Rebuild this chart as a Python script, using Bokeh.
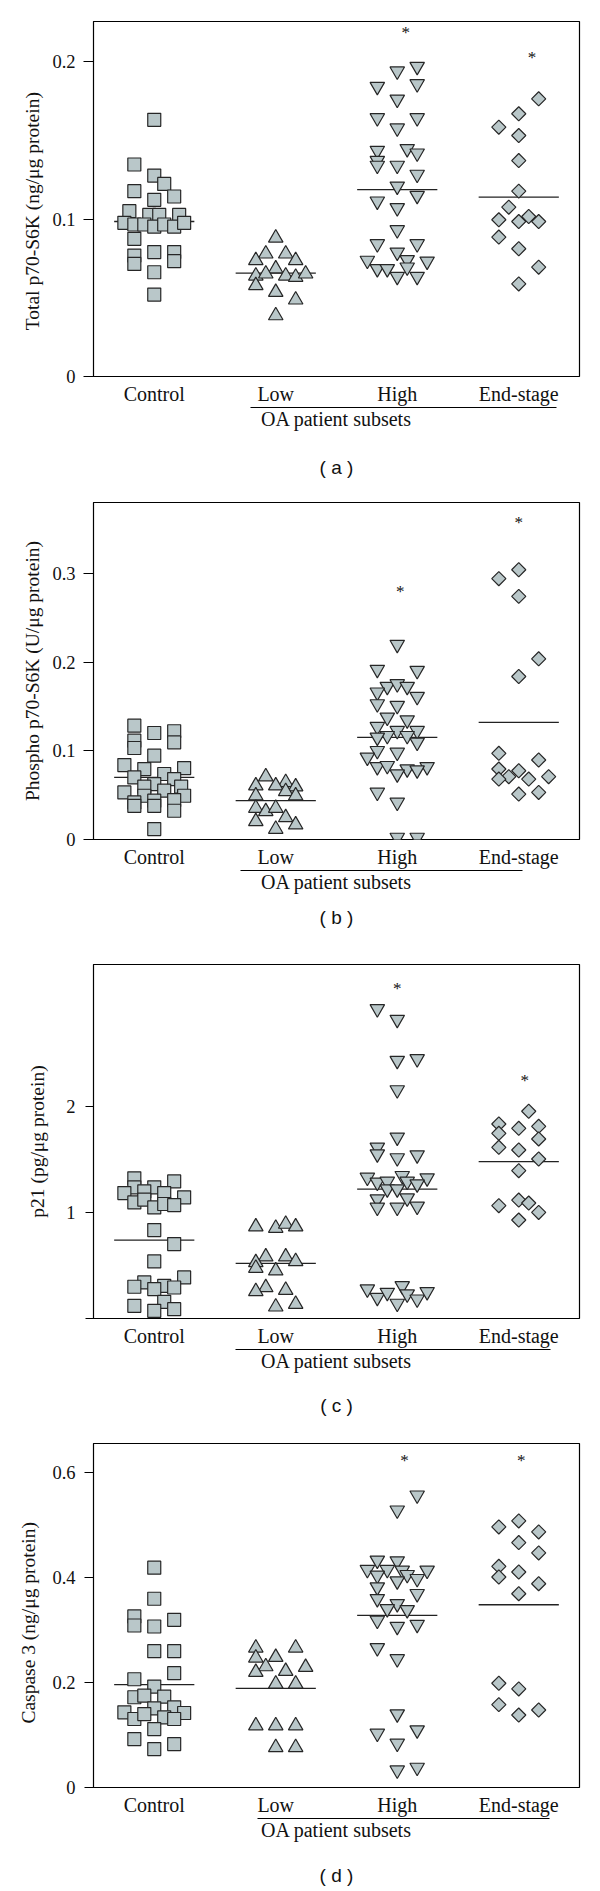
import math
from bokeh.plotting import figure
from bokeh.models import Range1d, FixedTicker, LinearAxis
from bokeh.layouts import column
from bokeh.embed import file_html
from bokeh.resources import INLINE
from bokeh.core.properties import value

categories = ["Control", "Low", "High", "End-stage"]

# ---------------- panel (a) Total p70-S6K ----------------
a_control = [0.163, 0.1346, 0.1276, 0.1223, 0.1177, 0.1143, 0.1122, 0.105, 0.1026, 0.1026, 0.1026,
             0.0976, 0.0965, 0.0965, 0.0952, 0.0965, 0.0952, 0.0976, 0.0874, 0.079, 0.079, 0.0768,
             0.0715, 0.0732, 0.0662, 0.052]
a_control_slot = [0, -2, 0, 1, -2, 2, 0, -2.5, -0.5, 0.5, 2.5, -3, -2, -1, 0, 1, 2, 3, -2, 0, 2, -2, -2, 2, 0, 0]
a_low = [0.088, 0.0779, 0.0779, 0.0737, 0.0737, 0.0684, 0.0639, 0.0652, 0.0639, 0.0631, 0.0652,
         0.0578, 0.0535, 0.0487, 0.0387]
a_low_slot = [0, -1, 1, -2, 2, 0, -2, -1, 1, 2, 3, -2, 0, 2, 0]
a_high = [0.1968, 0.1939, 0.1841, 0.1858, 0.176, 0.1642, 0.1642, 0.1577, 0.1435, 0.1446, 0.1418,
          0.1371, 0.134, 0.134, 0.1283, 0.1208, 0.1149, 0.1113, 0.1071, 0.0931, 0.0842, 0.0842,
          0.0789, 0.0737, 0.0741, 0.0732, 0.0684, 0.0684, 0.0694, 0.0635, 0.0635]
a_high_slot = [2, 0, -2, 2, 0, -2, 2, 0, -2, 1, 2, -2, -2, 0, 2, 0, 2, -2, 0, 0, -2, 2, 0, -3, 1, 3,
               -2, -1, 1, 0, 2]
a_end = [0.1763, 0.1668, 0.1583, 0.153, 0.1371, 0.1177, 0.1075, 0.0995, 0.0984, 0.1016, 0.0984,
         0.0885, 0.0811, 0.0694, 0.0588]
a_end_slot = [2, 0, -2, 0, 0, 0, -1, -2, 0, 1, 2, -2, 0, 2, 0]
a_means = [0.0984, 0.0656, 0.1187, 0.1139]
a_stars = [None, None, 0.2186, 0.2023]
a_yticks = [0, 0.1, 0.2]
a_yticklabels = ["0", "0.1", "0.2"]

# ---------------- panel (b) Phospho p70-S6K ----------------
b_control = [0.1283, 0.12, 0.122, 0.1114, 0.1095, 0.1031, 0.0945, 0.0839, 0.0805, 0.0794, 0.0738,
             0.07, 0.0681, 0.0625, 0.0595, 0.0595, 0.0531, 0.055, 0.0493, 0.0493, 0.0418, 0.0437,
             0.0444, 0.038, 0.038, 0.0324, 0.0117]
b_control_slot = [-2, 0, 2, -2, 2, -2, 0, -3, 3, -1, 1, -2, 2, 0, -1, 2.7, -3, 1, -1, 3, -2, 0, 2,
                  -2, 0, 2, 0]
b_low = [0.0708, 0.0606, 0.0644, 0.0606, 0.0595, 0.0542, 0.0493, 0.0493, 0.0354, 0.0316, 0.0354,
         0.0248, 0.0203, 0.0166, 0.0117]
b_low_slot = [-1, -2, 1, 0, 2, 1, -2, 2, -2, -1, 0, 1, -2, 2, 0]
b_high = [0.2198, 0.1916, 0.1904, 0.1724, 0.1754, 0.1724, 0.166, 0.1611, 0.1528, 0.1509, 0.1377,
          0.1347, 0.1272, 0.1227, 0.1227, 0.117, 0.117, 0.1152, 0.1001, 0.0982, 0.1095, 0.0926,
          0.082, 0.0832, 0.0794, 0.082, 0.0738, 0.0783, 0.0531, 0.0418, 0.0023, 0.0023]
b_high_slot = [0, -2, 2, -1, 0, 1, -2, 2, -2, 0, -1, 1, -2, 0, 2, -1, 1, -2, -2, 0, 2, -3, -2, -1,
               1, 3, 0, 2, -2, 0, 0, 2]
b_end = [0.304, 0.294, 0.274, 0.2036, 0.1837, 0.0971, 0.0896, 0.0794, 0.0775, 0.0708, 0.0681,
         0.0681, 0.0708, 0.0512, 0.0531]
b_end_slot = [0, -2, 0, 2, 0, -2, 2, -2, 0, -1, 1, -2, 3, 0, 2]
b_means = [0.07, 0.0437, 0.1152, 0.1321]
b_stars = [None, None, 0.279, 0.357]
b_yticks = [0, 0.1, 0.2, 0.3]
b_yticklabels = ["0", "0.1", "0.2", "0.3"]

# ---------------- panel (c) p21 ----------------
c_control = [1.321, 1.236, 1.236, 1.292, 1.182, 1.198, 1.182, 1.142, 1.094, 1.12, 1.047, 1.079,
             1.069, 0.833, 0.701, 0.538, 0.387, 0.34, 0.299, 0.308, 0.292, 0.277, 0.119, 0.157,
             0.072, 0.088]
c_control_slot = [-2, 0, -2, 2, -3, -1, 1, 3, -2, -1, 0, 1, 2, 0, 2, 0, 3, -1, -2, 1, 2, 0, -2, 1,
                  0, 2]
c_low = [0.865, 0.852, 0.89, 0.865, 0.582, 0.582, 0.528, 0.538, 0.475, 0.45, 0.292, 0.267, 0.255,
         0.11, 0.135]
c_low_slot = [-2, 0, 1, 2, -1, 1, -2, 2, -2, 0, -1, 1, -2, 0, 2]
c_high = [2.918, 2.818, 2.431, 2.447, 2.154, 1.708, 1.613, 1.55, 1.513, 1.541, 1.33, 1.346, 1.324,
          1.283, 1.292, 1.292, 1.267, 1.22, 1.22, 1.126, 1.135, 1.047, 1.047, 1.057, 0.277, 0.198,
          0.245, 0.308, 0.23, 0.142, 0.182, 0.252]
c_high_slot = [-2, 0, 0, 2, 0, 0, -2, -2, 0, 2, -3, 0.5, 3, -2, -1, 1, 2, -1, 0, -2, 1, -2, 0, 2,
               -3, -2, -1, 0.5, 1, 0, 2, 3]
c_end = [1.953, 1.833, 1.792, 1.811, 1.745, 1.692, 1.613, 1.588, 1.503, 1.393, 1.063, 1.116,
         1.088, 1.0, 0.928]
c_end_slot = [1, -2, 0, 2, -2, 2, -2, 0, 2, 0, -2, 0, 1, 2, 0]
c_means = [0.739, 0.519, 1.22, 1.478]
c_stars = [None, None, 3.107, 2.242]
c_yticks = [0, 1, 2]
c_yticklabels = ["", "1", "2"]

# ---------------- panel (d) Caspase 3 ----------------
d_control = [0.4186, 0.3594, 0.3257, 0.3085, 0.3193, 0.3066, 0.2595, 0.2595, 0.2176, 0.2061,
             0.1921, 0.1718, 0.1749, 0.173, 0.1431, 0.1508, 0.1527, 0.1419, 0.1304, 0.1399,
             0.1336, 0.1304, 0.1113, 0.0922, 0.0827, 0.0732]
d_control_slot = [0, 0, -2, -2, 2, 0, 0, 2, 2, -2, 0, -2, -1, 1, -3, 0, 2, 3, -2, -1, 1, 2, 0, -2,
                  2, 0]
d_low = [0.2659, 0.2659, 0.2468, 0.2481, 0.2303, 0.229, 0.2195, 0.2214, 0.1972, 0.1972, 0.1177,
         0.1177, 0.1177, 0.0763, 0.0763]
d_low_slot = [-2, 2, -2, 0, -1, 3, -2, 1, 0, 2, -2, 0, 2, 0, 2]
d_high = [0.5566, 0.528, 0.4326, 0.4313, 0.4148, 0.4148, 0.4135, 0.4135, 0.404, 0.4052, 0.3976,
          0.3931, 0.3817, 0.369, 0.3594, 0.3499, 0.3403, 0.3384, 0.3181, 0.3066, 0.3104, 0.2659,
          0.2449, 0.1399, 0.103, 0.1094, 0.084, 0.0331, 0.0382]
d_high_slot = [2, 0, -2, 0, -3, -1, 0.5, 3, -2, 1, 2, 0, -2, 2, -2, 0, -1, 1, -2, 0, 2, -2, 0, 0,
               -2, 2, 0, 0, 2]
d_end = [0.5076, 0.4962, 0.4866, 0.4663, 0.4466, 0.4211, 0.4103, 0.4008, 0.388, 0.369, 0.1985,
         0.1877, 0.1578, 0.1476, 0.138]
d_end_slot = [0, -2, 2, 0, 2, -2, 0, -2, 2, 0, -2, 0, -2, 2, 0]
d_means = [0.1959, 0.1889, 0.3276, 0.348]
d_stars = [None, None, 0.6234, 0.6234]
d_yticks = [0, 0.2, 0.4, 0.6]
d_yticklabels = ["0", "0.2", "0.4", "0.6"]

FILL = "#b9c7c9"
EDGE = "#262626"
TXT = "#111111"
SERIF = "Liberation Serif"
SANS = "Liberation Sans"
STEP = 0.082
HALF = 0.33
NB = "\u00a0"

# marker styling per group: (marker, size, angle)
STYLES = [("square", 13, 0.0), ("triangle", 14.5, 0.0), ("inverted_triangle", 14.5, 0.0),
          ("square", 10, math.pi / 4)]


def make_panel(groups, slots, means, stars, star_dx, ymax, yticks, yticklabels, ylabel,
               caption, under, cap_x, geom):
    height, top, fh, left, fw, tick_out, tick_sd, ylab_sd, cap_gap = geom
    width = 598
    p = figure(width=width, height=height, output_backend="svg", toolbar_location=None,
               x_range=Range1d(0.5, 4.5), y_range=Range1d(0, ymax),
               min_border_left=left, min_border_right=width - left - fw,
               min_border_top=top, min_border_bottom=height - top - fh)
    p.grid.visible = False
    p.background_fill_color = "white"
    p.border_fill_color = "white"
    p.outline_line_color = "black"
    p.outline_line_width = 1.2

    # mean lines
    xs = [i + 1 for i in range(4)]
    p.segment(x0=[x - HALF for x in xs], x1=[x + HALF for x in xs], y0=means, y1=means,
              line_color="#222222", line_width=1.3)

    for i, (vals, sl) in enumerate(zip(groups, slots)):
        mk, sz, ang = STYLES[i]
        p.scatter(x=[i + 1 + s * STEP for s in sl], y=vals, marker=mk, size=sz, angle=ang,
                  fill_color=FILL, line_color=EDGE, line_width=1.2)

    sx, sy = [], []
    for i, s in enumerate(stars):
        if s is not None:
            sx.append(i + 1 + star_dx[i])
            sy.append(s)
    p.text(x=sx, y=sy, text=["*"] * len(sx), text_font=value(SERIF), text_font_size="17px",
           text_align="center", text_baseline="middle", text_color=TXT)

    # x axis with categories
    xa = p.xaxis[0]
    xa.ticker = FixedTicker(ticks=xs)
    xa.major_label_overrides = {x: c for x, c in zip(xs, categories)}
    xa.major_tick_line_color = None
    xa.major_tick_out = 0
    xa.major_tick_in = 0
    xa.minor_tick_line_color = None
    xa.axis_line_color = None
    xa.major_label_standoff = 6
    xa.major_label_text_font = SERIF
    xa.major_label_text_font_size = "20px"
    xa.major_label_text_color = TXT

    # y axis
    ya = p.yaxis[0]
    ya.ticker = FixedTicker(ticks=yticks)
    ya.major_label_overrides = {t: l for t, l in zip(yticks, yticklabels)}
    ya.minor_tick_line_color = None
    ya.major_tick_in = 0
    ya.major_tick_out = tick_out
    ya.major_tick_line_color = "black"
    ya.axis_line_color = "black"
    ya.major_label_standoff = tick_sd
    ya.major_label_text_font = SERIF
    ya.major_label_text_font_size = "18.5px"
    ya.major_label_text_color = TXT
    ya.axis_label = ylabel
    ya.axis_label_text_font = SERIF
    ya.axis_label_text_font_size = "19.5px"
    ya.axis_label_text_font_style = "normal"
    ya.axis_label_text_color = TXT
    ya.axis_label_standoff = ylab_sd

    # "OA patient subsets" bracket axis
    ax2 = LinearAxis(bounds=under, ticker=FixedTicker(ticks=[]), axis_label="OA patient subsets",
                     axis_label_standoff=0, axis_label_text_font=SERIF,
                     axis_label_text_font_size="20px", axis_label_text_font_style="normal",
                     axis_label_text_color=TXT, major_tick_out=0, major_tick_in=0,
                     major_label_text_font_size="0px", minor_tick_line_color=None,
                     axis_line_color="black", axis_line_width=1.2)
    p.add_layout(ax2, "below")

    # panel caption "( a )" etc.
    ax3 = LinearAxis(bounds=(cap_x - 0.2, cap_x + 0.2), ticker=FixedTicker(ticks=[]),
                     axis_label=caption, axis_label_standoff=cap_gap, axis_label_text_font=SANS,
                     axis_label_text_font_size="19px", axis_label_text_font_style="normal",
                     axis_label_text_color=TXT, major_tick_out=0, major_tick_in=0,
                     major_label_text_font_size="0px", minor_tick_line_color=None,
                     axis_line_color=None)
    p.add_layout(ax3, "below")
    return p


pa = make_panel([a_control, a_low, a_high, a_end],
                [a_control_slot, a_low_slot, a_high_slot, a_end_slot],
                a_means, a_stars, [0, 0, 0.07, 0.11], 0.2254, a_yticks, a_yticklabels,
                "Total p70-S6K (ng/\u03bcg protein)" + NB * 5, "( a )", (1.79, 4.31), 2.40,
                (480, 21, 355, 91, 488, 10, 8, 6, 24))
pb = make_panel([b_control, b_low, b_high, b_end],
                [b_control_slot, b_low_slot, b_high_slot, b_end_slot],
                b_means, b_stars, [0, 0, 0.025, 0.0], 0.3798, b_yticks, b_yticklabels,
                "Phospho p70-S6K (U/\u03bcg protein)", "( b )", (1.71, 4.03), 2.42,
                (451, 22, 337, 89, 490, 10, 8, 6, 11))
pc = make_panel([c_control, c_low, c_high, c_end],
                [c_control_slot, c_low_slot, c_high_slot, c_end_slot],
                c_means, c_stars, [0, 0, 0.0, 0.05], 3.336, c_yticks, c_yticklabels,
                "p21 (pg/\u03bcg protein)", "( c )", (1.67, 4.26), 2.43,
                (487, 33, 354, 86, 493, 8, 10, 15, 20))
pd_ = make_panel([d_control, d_low, d_high, d_end],
                 [d_control_slot, d_low_slot, d_high_slot, d_end_slot],
                 d_means, d_stars, [0, 0, 0.06, 0.02], 0.655, d_yticks, d_yticklabels,
                 "Caspase 3 (ng/\u03bcg protein)" + NB * 3, "( d )", (1.85, 4.25), 2.40,
                 (471, 25, 344, 93, 486, 9, 9, 10, 21))

layout = column(pa, pb, pc, pd_, spacing=0)
open("out.html", "w").write(file_html(layout, INLINE))
